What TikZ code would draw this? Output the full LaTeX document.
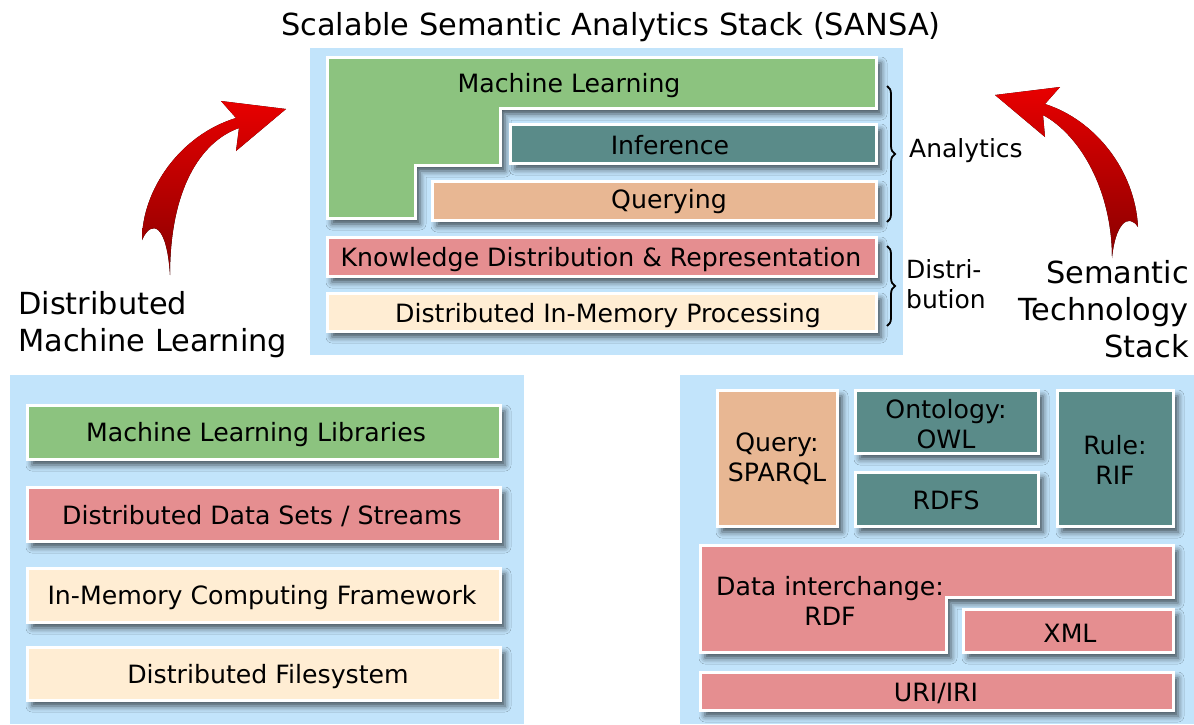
\documentclass[tikz,border=0pt]{standalone}
\usepackage{fontspec}
\setmainfont{DejaVu Sans}
\usepackage{tikz}
\usetikzlibrary{calc,shadows.blur,decorations.pathreplacing,positioning}
\definecolor{panelblue}{HTML}{C2E4FB}
\definecolor{mlgreen}{HTML}{8CC37F}
\definecolor{infteal}{HTML}{5A8B89}
\definecolor{qpeach}{HTML}{E8B793}
\definecolor{kdrose}{HTML}{E58E90}
\definecolor{memcream}{HTML}{FFEDD3}
\definecolor{arrowhi}{HTML}{E80000}
\definecolor{arrowlo}{HTML}{880000}
\newcommand{\boxfont}{\fontsize{25.2}{30}\selectfont}
\newcommand{\bracefont}{\fontsize{25}{30}\selectfont}
\newcommand{\bigfont}{\fontsize{30.4}{37}\selectfont}

\begin{document}
\begin{tikzpicture}[x=1pt,y=-1pt,
		panel/.style={fill=panelblue},
		layer/.style={draw=white, line width=3pt, blur shadow={shadow xshift=5pt, shadow yshift=-6pt, shadow blur radius=6pt, shadow opacity=65}},
		txt/.style={font=\boxfont, align=center, inner sep=0pt},
		bracelabel/.style={font=\bracefont, align=left, anchor=west, inner sep=0pt},
		biglabel/.style={font=\bigfont, inner sep=0pt},
		curly/.style={decorate, decoration={brace, amplitude=8pt}, line width=1.8pt},
		bigarrow/.style={top color=arrowhi, bottom color=arrowlo}]
				\useasboundingbox (0,0) rectangle (1194,724);
				\node[biglabel] (title) at (611,27) {Scalable Semantic Analytics Stack (SANSA)};
				\fill[panel] (310,48) rectangle (903,355);
				\fill[panel] (10,375) rectangle (524,724);
				\fill[panel] (680,375) rectangle (1194,724);

				\draw[layer, fill=mlgreen] (327,57) -- (876,57) -- (876,108) -- (500,108) -- (500,165) -- (415,165) -- (415,218) -- (327,218) -- cycle;
				\node[txt] (ml) at (569,86) {Machine Learning};
				\draw[layer, fill=infteal] (510,124) rectangle (876,163);
				\node[txt] (inf) at (670,145) {Inference};
				\draw[layer, fill=qpeach] (432,181) rectangle (876,220);
				\node[txt] (qry) at (669,202) {Querying};
				\draw[layer, fill=kdrose] (327,237) rectangle (876,276);
				\node[txt] (kdr) at (601,260) {Knowledge Distribution \& Representation};
				\draw[layer, fill=memcream] (327,293) rectangle (876,331);
				\node[txt] (dimp) at (608,316) {Distributed In-Memory Processing};

				\draw[curly] (887,86) -- (887,222);
				\node[bracelabel] (ana) at (909,151) {Analytics};
				\draw[curly] (887,246) -- (887,326);
				\node[bracelabel] (dist) at (906,284) {Distri-\\bution};

				\draw[layer, fill=mlgreen] (27,405) rectangle (500,459);
				\node[txt] (mllib) at (256,435) {Machine Learning Libraries};
				\draw[layer, fill=kdrose] (27,487) rectangle (500,541);
				\node[txt] (dds) at (262,516) {Distributed Data Sets / Streams};
				\draw[layer, fill=memcream] (27,568) rectangle (500,622);
				\node[txt] (imc) at (262,598) {In-Memory Computing Framework};
				\draw[layer, fill=memcream] (27,647) rectangle (500,700);
				\node[txt] (dfs) at (268,677) {Distributed Filesystem};

				\draw[layer, fill=qpeach] (717,390) rectangle (837,526);
				\node[txt] (sparql) at (777,459) {Query:\\SPARQL};
				\draw[layer, fill=infteal] (855,390) rectangle (1038,453);
				\node[txt] (owl) at (946,424) {Ontology:\\OWL};
				\draw[layer, fill=infteal] (855,472) rectangle (1038,526);
				\node[txt] (rdfs) at (946,500) {RDFS};
				\draw[layer, fill=infteal] (1057,390) rectangle (1173,526);
				\node[txt] (rif) at (1115,460) {Rule:\\RIF};
				\draw[layer, fill=kdrose] (700,545) -- (1173,545) -- (1173,597) -- (946,597) -- (946,652) -- (700,652) -- cycle;
				\node[txt] (rdf) at (830,601) {Data interchange:\\RDF};
				\draw[layer, fill=kdrose] (963,609) rectangle (1173,652);
				\node[txt] (xml) at (1070,633) {XML};
				\draw[layer, fill=kdrose] (700,672) rectangle (1173,710);
				\node[txt] (uri) at (936,693) {URI/IRI};

				\node[biglabel, align=left, anchor=west] (dml) at (18,325) {Distributed\\Machine Learning};
				\node[biglabel, align=right, anchor=east] (sts) at (1189,309) {Semantic\\Technology\\Stack};

				\fill[bigarrow] (142,240) .. controls (142,190) and (180,135) .. (236,118) -- (221,101) -- (286,109) -- (236,151) -- (239,128) .. controls (200,142) and (170,190) .. (170,275) .. controls (167,225) and (152,218) .. (142,240) -- cycle;
				\fill[bigarrow] (1138,227) .. controls (1135,170) and (1095,120) .. (1045,104) -- (1060,87) -- (995,95) -- (1045,137) -- (1043,115) .. controls (1080,135) and (1112,190) .. (1112,258) .. controls (1115,225) and (1128,212) .. (1138,227) -- cycle;
\end{tikzpicture}
\end{document}
